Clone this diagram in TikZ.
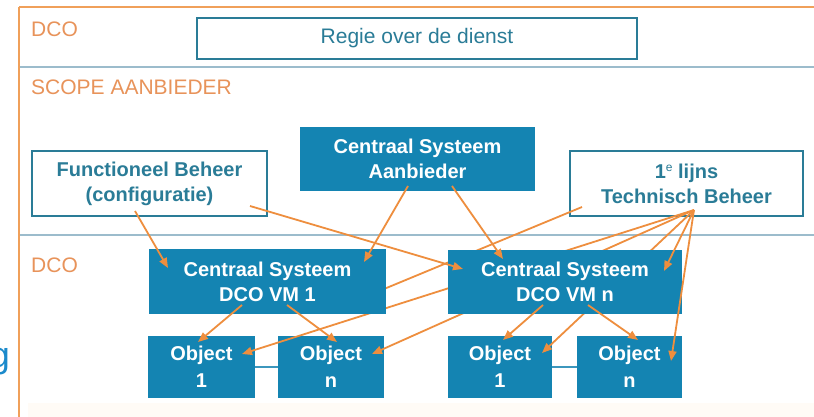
\documentclass[tikz,border=0pt]{standalone}
\usepackage{fontspec}
\setmainfont{Liberation Sans}
\usetikzlibrary{arrows.meta}
\definecolor{boxblue}{HTML}{1484B2}
\definecolor{tealtxt}{HTML}{2A7C97}
\definecolor{arrorange}{HTML}{EE8E3E}
\definecolor{frameorange}{HTML}{F0A05A}
\definecolor{lbl}{HTML}{E8935A}
\definecolor{sepcol}{HTML}{9CBCCC}
\definecolor{gblue}{HTML}{1B8ACB}
\definecolor{linkblue}{HTML}{3C97BD}
\definecolor{cream}{HTML}{FFFBF6}
\begin{document}
\begin{tikzpicture}[x=1pt,y=-1pt,
  bluebox/.style={fill=boxblue, text=white, font=\fontsize{20}{25}\selectfont\bfseries, align=center, inner sep=0pt},
  whitebox/.style={draw=tealtxt, line width=2pt, fill=white, text=tealtxt, font=\fontsize{20}{25}\selectfont\bfseries, align=center, inner sep=0pt},
  arr/.style={draw=arrorange, line width=1.8pt, -{Triangle[length=10pt,width=8pt]}},
  lbltxt/.style={text=lbl, font=\fontsize{21}{25}\selectfont, anchor=west, inner sep=0pt},
  seprule/.style={draw=sepcol, line width=2pt},
  framerule/.style={draw=frameorange, line width=2.4pt},
  linkrule/.style={draw=linkblue, line width=2pt}]
\clip (0,0) rectangle (814,417);
\fill[white] (0,0) rectangle (814,417);
\fill[cream] (28,403) rectangle (814,417);

% frame
\draw[framerule] (19,7) -- (814,7);
\draw[framerule] (19,7) -- (19,417);
\draw[seprule] (20,67) -- (814,67);
\draw[seprule] (20,235) -- (814,235);

% partial text at left
\node[text=gblue, font=\fontsize{36}{40}\selectfont, anchor=base east, inner sep=0pt] (gtxt) at (10,367) {g};

% labels
\node[lbltxt] (lbldco1) at (31,29) {DCO};
\node[lbltxt] (lblscope) at (31,87) {SCOPE AANBIEDER};
\node[lbltxt] (lbldco2) at (31,265) {DCO};

% upper boxes
\node[whitebox, font=\fontsize{21}{25}\selectfont, minimum width=440, minimum height=41] (regie) at (417,38.5) {Regie over de dienst};
\node[whitebox, minimum width=235, minimum height=65] (fb) at (149.5,183.5) {Functioneel Beheer\\(configuratie)};
\node[bluebox, minimum width=235, minimum height=64] (aanb) at (417.5,159) {Centraal Systeem\\Aanbieder};
\node[whitebox, minimum width=233, minimum height=65] (tech) at (686.5,183.5) {1{\fontsize{12}{12}\selectfont\mdseries\raisebox{7pt}{e}} lijns\\Technisch Beheer};

% object boxes
\node[bluebox, font=\fontsize{20}{27}\selectfont\bfseries, minimum width=107, minimum height=62] (o1l) at (201.5,367) {Object\\1};
\node[bluebox, font=\fontsize{20}{27}\selectfont\bfseries, minimum width=106, minimum height=62] (onl) at (331,367) {Object\\n};
\node[bluebox, font=\fontsize{20}{27}\selectfont\bfseries, minimum width=104, minimum height=62] (o1r) at (500,367) {Object\\1};
\node[bluebox, font=\fontsize{20}{27}\selectfont\bfseries, minimum width=105, minimum height=62] (onr) at (629.5,367) {Object\\n};
\draw[linkrule] (o1l.east) -- (onl.west);
\draw[linkrule] (o1r.east) -- (onr.west);

% connector points
\coordinate (fbA) at (135,211);
\coordinate (fbB) at (250,206);
\coordinate (aaA) at (408,186);
\coordinate (aaB) at (452,186);
\coordinate (teA) at (582,207);
\coordinate (teT) at (694,210);
\coordinate (vm1A) at (168,268);
\coordinate (vm1B) at (364,262);
\coordinate (vm1C) at (355,301);
\coordinate (vm1D) at (242,305);
\coordinate (vm1E) at (287,305);
\coordinate (vmnA) at (463,269);
\coordinate (vmnB) at (503,259);
\coordinate (vmnC) at (664,271);
\coordinate (vmnD) at (543,305);
\coordinate (vmnE) at (588,305);
\coordinate (o1lA) at (198,342);
\coordinate (o1lB) at (242,354);
\coordinate (onlA) at (337,342);
\coordinate (onlB) at (372,354);
\coordinate (o1rA) at (503,340);
\coordinate (o1rB) at (542,353);
\coordinate (onrA) at (638,340);
\coordinate (onrB) at (671,361);

% connectors passing behind the VM boxes
\draw[arr] (teA) -- (vm1C);
\draw[arr] (teT) -- (o1lB);
\draw[arr] (teT) -- (onlB);
\draw[arr] (teT) -- (o1rB);

% VM boxes
\node[bluebox, minimum width=237, minimum height=65] (vm1) at (267.5,281.5) {Centraal Systeem\\DCO VM 1};
\node[bluebox, minimum width=234, minimum height=64] (vmn) at (565,282) {Centraal Systeem\\DCO VM n};

% front connectors
\draw[arr] (fbA) -- (vm1A);
\draw[arr] (fbB) -- (vmnA);
\draw[arr] (aaA) -- (vm1B);
\draw[arr] (aaB) -- (vmnB);
\draw[arr] (teT) -- (vmnC);
\draw[arr] (teT) -- (onrB);
\draw[arr] (vm1D) -- (o1lA);
\draw[arr] (vm1E) -- (onlA);
\draw[arr] (vmnD) -- (o1rA);
\draw[arr] (vmnE) -- (onrA);
\end{tikzpicture}
\end{document}
